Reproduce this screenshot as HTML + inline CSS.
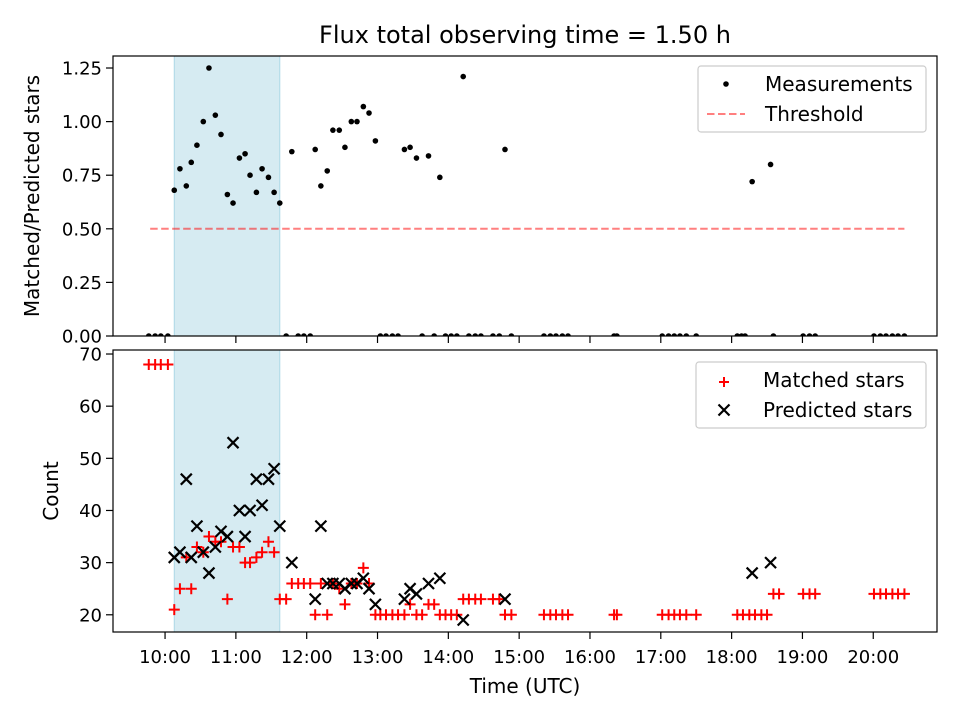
<!DOCTYPE html>
<html><head><meta charset="utf-8"><style>
body{margin:0;background:#fff}
svg{font-family:"DejaVu Sans","Liberation Sans",sans-serif}
</style></head><body>
<svg id="fig" width="960" height="720" viewBox="0 0 960 720">
<rect width="960" height="720" fill="#fff"/>
<text x="525" y="43" font-size="24" text-anchor="middle">Flux total observing time = 1.50 h</text>
<g id="topAxes"></g><g id="botAxes"></g>
</svg>
<script>
// ---- data ----
const ratioTimes=[10.13,10.21,10.30,10.37,10.45,10.54,10.62,10.71,10.79,10.88,10.96,11.05,11.13,11.20,11.29,11.37,11.46,11.54,11.62,11.79,12.12,12.20,12.29,12.37,12.46,12.54,12.63,12.71,12.80,12.88,12.97,13.38,13.46,13.55,13.72,13.88,14.21,14.80,18.29,18.55];
const ratioValues=[0.68,0.78,0.70,0.81,0.89,1.00,1.25,1.03,0.94,0.66,0.62,0.83,0.85,0.75,0.67,0.78,0.74,0.67,0.62,0.86,0.87,0.70,0.77,0.96,0.96,0.88,1.00,1.00,1.07,1.04,0.91,0.87,0.88,0.83,0.84,0.74,1.21,0.87,0.72,0.80];
const zeroTimes=[9.77,9.86,9.94,10.04,11.71,11.88,11.96,12.05,13.04,13.12,13.21,13.29,13.63,13.80,13.96,14.04,14.12,14.29,14.38,14.46,14.63,14.72,14.89,15.35,15.44,15.52,15.61,15.69,16.34,16.38,17.02,17.11,17.19,17.27,17.36,17.50,18.08,18.14,18.19,18.59,19.01,19.10,19.18,20.01,20.10,20.18,20.27,20.35,20.44];
const zeroValue=0;
const threshold=0.5;
const thresholdRange=[9.79,20.44];
const shadeRange=[10.13,11.62];
const matchedTimes=[9.77,9.86,9.94,10.04,10.13,10.21,10.30,10.37,10.45,10.54,10.62,10.71,10.79,10.88,10.96,11.05,11.13,11.20,11.29,11.37,11.46,11.54,11.62,11.71,11.79,11.88,11.96,12.05,12.12,12.20,12.29,12.37,12.46,12.54,12.63,12.71,12.80,12.88,12.97,13.04,13.12,13.21,13.29,13.38,13.46,13.55,13.63,13.72,13.80,13.88,13.96,14.04,14.12,14.21,14.29,14.38,14.46,14.63,14.72,14.80,14.89,15.35,15.44,15.52,15.61,15.69,16.34,16.38,17.02,17.11,17.19,17.27,17.36,17.50,18.08,18.16,18.25,18.33,18.42,18.50,18.59,18.67,19.01,19.10,19.18,20.01,20.10,20.18,20.27,20.35,20.44];
const matchedValues=[68,68,68,68,21,25,31,25,33,32,35,34,34,23,33,33,30,30,31,32,34,32,23,23,26,26,26,26,20,26,20,26,25,22,26,26,29,26,20,20,20,20,20,20,22,20,20,22,22,20,20,20,20,23,23,23,23,23,23,20,20,20,20,20,20,20,20,20,20,20,20,20,20,20,20,20,20,20,20,20,24,24,24,24,24,24,24,24,24,24,24];
const predictedTimes=[10.13,10.21,10.30,10.37,10.45,10.54,10.62,10.71,10.79,10.88,10.96,11.05,11.13,11.20,11.29,11.37,11.46,11.54,11.62,11.79,12.12,12.20,12.29,12.37,12.46,12.54,12.63,12.71,12.80,12.88,12.97,13.38,13.46,13.55,13.72,13.88,14.21,14.80,18.29,18.55];
const predictedValues=[31,32,46,31,37,32,28,33,36,35,53,40,35,40,46,41,46,48,37,30,23,37,26,26,26,25,26,26,27,25,22,23,25,24,26,27,19,23,28,30];
const xTickLabels=["10:00","11:00","12:00","13:00","14:00","15:00","16:00","17:00","18:00","19:00","20:00"];
const xTickHours=[10,11,12,13,14,15,16,17,18,19,20];
const topYTicks=[0,0.25,0.5,0.75,1.0,1.25];
const botYTicks=[20,30,40,50,60,70];

// ---- axes ----
const NS="http://www.w3.org/2000/svg";
const L=113,R=937,T1=56,B1=336,T2=350,B2=632;
const FS=18, LFS=20;
const X=t=>L+(t-9.265)/(20.9-9.265)*(R-L);
const Y1=v=>B1-(v-0)/(1.306-0)*(B1-T1);
const Y2=v=>B2-(v-16.7)/(70.77-16.7)*(B2-T2);
function mk(tag,attrs,parent){const e=document.createElementNS(NS,tag);for(const k in attrs)e.setAttribute(k,attrs[k]);parent.appendChild(e);return e;}
const topG=document.getElementById('topAxes'),botG=document.getElementById('botAxes');

function axesFrame(g,T,B,Y,ticks,fmt,showX,ylab,nm){
  let sh=mk('rect',{x:X(shadeRange[0]),y:T,width:X(shadeRange[1])-X(shadeRange[0]),height:B-T,fill:'#add8e6','fill-opacity':0.5,stroke:'#add8e6'},g);
  
  
  ticks.forEach(v=>{
    const y=Y(v);
    const t=mk('line',{x1:L-7,x2:L,y1:y,y2:y,stroke:'#000','stroke-width':1.2},g);
    
    
    const tx=mk('text',{x:L-11,y:y+6.5,'font-size':FS,'text-anchor':'end'},g);
    tx.textContent=fmt(v);
    
    
  });
  xTickHours.forEach((h,i)=>{
    const x=X(h);
    const t=mk('line',{x1:x,x2:x,y1:B,y2:B+7,stroke:'#000','stroke-width':1.2},g);
    
    
    if(showX){
      const tx=mk('text',{x:x,y:B+31,'font-size':FS,'text-anchor':'middle'},g);
      tx.textContent=xTickLabels[i];
      
      
    }
  });
  const yl=mk('text',{x:0,y:0,'font-size':LFS,'text-anchor':'middle',transform:`translate(${nm==='top'?39:58},${(T+B)/2}) rotate(-90)`},g);
  yl.textContent=ylab;
  
  
}
axesFrame(topG,T1,B1,Y1,topYTicks,v=>v.toFixed(2),false,'Matched/Predicted stars','top');
axesFrame(botG,T2,B2,Y2,botYTicks,v=>String(v),true,'Count','bottom');

// threshold
const th=mk('line',{x1:X(thresholdRange[0]),x2:X(thresholdRange[1]),y1:Y1(threshold),y2:Y1(threshold),stroke:'#ff0000','stroke-opacity':0.5,'stroke-width':2,'stroke-dasharray':'7.5,3.5'},topG);



// ratio points
const clipTop=mk('clipPath',{id:'ct'},topG);mk('rect',{x:L,y:T1,width:R-L,height:B1-T1},clipTop);
const rg=mk('g',{'clip-path':'url(#ct)'},topG);
ratioTimes.forEach((t,i)=>{
  const c=mk('circle',{cx:X(t),cy:Y1(ratioValues[i]),r:2.8,fill:'#000'},rg);
  
  
});
zeroTimes.forEach(t=>{
  const c=mk('circle',{cx:X(t),cy:Y1(zeroValue),r:2.8,fill:'#000'},rg);
  
  
});
// matched
matchedTimes.forEach((t,i)=>{
  const x=X(t),y=Y2(matchedValues[i]),s=5.5;
  const p=mk('path',{d:`M${x-s},${y}H${x+s}M${x},${y-s}V${y+s}`,stroke:'#ff0000','stroke-width':2},botG);
  
  
});
// predicted
predictedTimes.forEach((t,i)=>{
  const x=X(t),y=Y2(predictedValues[i]),s=5.5;
  const p=mk('path',{d:`M${x-s},${y-s}L${x+s},${y+s}M${x-s},${y+s}L${x+s},${y-s}`,stroke:'#000','stroke-width':2.2},botG);
  
  
});
// frames
const f1=mk('rect',{x:L,y:T1,width:R-L,height:B1-T1,fill:'none',stroke:'#000','stroke-width':1.2},topG);


const f2=mk('rect',{x:L,y:T2,width:R-L,height:B2-T2,fill:'none',stroke:'#000','stroke-width':1.2},botG);


const xl=mk('text',{x:525,y:693,'font-size':LFS,'text-anchor':'middle'},botG);
xl.textContent='Time (UTC)';



// legends
function legend(g,x,y,w,h,nm,entries){
  const lg=mk('g',{},g);
  
  
  mk('rect',{x:x,y:y,width:w,height:h,rx:3,fill:'#fff','fill-opacity':0.8,stroke:'#ccc','stroke-width':1.2},lg);
  entries.forEach((e,i)=>{
    const cy=y+18+i*30;
    const cx=x+28;
    if(e.k==='dot')mk('circle',{cx:cx,cy:cy,r:2.8,fill:'#000'},lg);
    if(e.k==='dash')mk('line',{x1:cx-19,x2:cx+19,y1:cy,y2:cy,stroke:'#ff0000','stroke-opacity':0.5,'stroke-width':2,'stroke-dasharray':'7.5,3.5'},lg);
    if(e.k==='plus')mk('path',{d:`M${cx-5},${cy+2}H${cx+5}M${cx},${cy-3}V${cy+7}`,stroke:'#ff0000','stroke-width':2},lg);
    if(e.k==='x')mk('path',{d:`M${cx-5.5},${cy-5.5}L${cx+5.5},${cy+5.5}M${cx-5.5},${cy+5.5}L${cx+5.5},${cy-5.5}`,stroke:'#000','stroke-width':2.2},lg);
    const t=mk('text',{x:x+67,y:cy+7,'font-size':LFS},lg);
    t.textContent=e.t;
    
    
  });
}
legend(topG,698,66,228,66,'top-legend',[{k:'dot',t:'Measurements'},{k:'dash',t:'Threshold'}]);
legend(botG,696,362,230,66,'bottom-legend',[{k:'plus',t:'Matched stars'},{k:'x',t:'Predicted stars'}]);
</script>
</body></html>
